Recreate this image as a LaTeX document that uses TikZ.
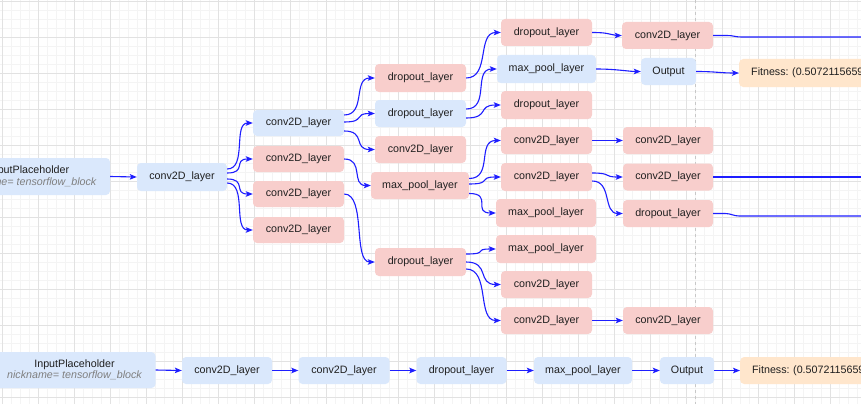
\documentclass[tikz,border=0pt]{standalone}
\usepackage{fontspec}
\setmainfont{Liberation Sans}
\usetikzlibrary{arrows.meta,calc}
\definecolor{bluefill}{HTML}{DAE8FC}
\definecolor{redfill}{HTML}{F8CECC}
\definecolor{orangefill}{HTML}{FFE6CC}
\definecolor{edgeblue}{RGB}{30,30,255}
\definecolor{gridmajor}{HTML}{E2E2E2}
\definecolor{gridminor}{HTML}{F4F4F4}
\definecolor{nickgray}{HTML}{7F7F7F}
\definecolor{dashgray}{HTML}{C8C8C8}
\frenchspacing
\begin{document}
\begin{tikzpicture}[x=1pt,y=-1pt,
  box/.style={rounded corners=4pt, inner sep=0pt, minimum height=27pt,
    font=\fontsize{10.7}{11.5}\selectfont, text=black!88},
  bluebox/.style={box, fill=bluefill},
  redbox/.style={box, fill=redfill},
  orangebox/.style={box, fill=orangefill, anchor=west, align=left, text width=190pt},
  wire/.style={draw=edgeblue, line width=1.1pt},
  edge/.style={wire, -{Stealth[length=7pt,width=5.5pt,inset=1.5pt]}},
  minorline/.style={draw=gridminor, line width=0.8pt},
  majorline/.style={draw=gridmajor, line width=0.9pt},
  dashline/.style={draw=dashgray, line width=1pt, dash pattern=on 3pt off 3pt}
]
\useasboundingbox (0,0) rectangle (861,404);
\clip (0,0) rectangle (861,404);
\fill[white] (0,0) rectangle (861,404);
% grid
\foreach \i in {0,...,96} { \draw[minorline] ({2+9*\i},0) -- ({2+9*\i},404); }
\foreach \j in {0,...,45} { \draw[minorline] (0,{1+9*\j}) -- (861,{1+9*\j}); }
\foreach \i in {0,...,24} { \draw[majorline] ({2+36*\i},0) -- ({2+36*\i},404); }
\foreach \j in {0,...,11} { \draw[majorline] (0,{1+36*\j}) -- (861,{1+36*\j}); }
\draw[dashline] (695,0) -- (695,404);

% ---------- tree ----------
\node[bluebox, minimum width=162pt, minimum height=37pt, align=center] (in1) at (29,176.5)
  {InputPlaceholder\\{\color{nickgray}\itshape nickname= tensorflow\_block}};
\node[bluebox, minimum width=90pt, minimum height=28pt] (c1) at (182,177) {conv2D\_layer};

\node[bluebox, minimum width=91pt, minimum height=26pt] (c2a) at (298.5,123) {conv2D\_layer};
\node[redbox, minimum width=91pt, minimum height=26pt] (c2b) at (298.5,159) {conv2D\_layer};
\node[redbox, minimum width=91pt, minimum height=26pt] (c2c) at (298.5,194) {conv2D\_layer};
\node[redbox, minimum width=91pt, minimum height=26pt] (c2d) at (298.5,230) {conv2D\_layer};

\node[redbox, minimum width=91pt, minimum height=28pt] (d3a) at (420.5,78) {dropout\_layer};
\node[bluebox, minimum width=91pt, minimum height=27pt] (d3b) at (420.5,113.5) {dropout\_layer};
\node[redbox, minimum width=91pt, minimum height=27pt] (c3c) at (420.5,149.5) {conv2D\_layer};
\node[redbox, minimum width=98pt, minimum height=27pt] (m3d) at (420,185.5) {max\_pool\_layer};
\node[redbox, minimum width=91pt, minimum height=28pt] (d3e) at (420.5,262) {dropout\_layer};

\node[redbox, minimum width=91pt] (d4a) at (546.5,32.5) {dropout\_layer};
\node[bluebox, minimum width=99pt, minimum height=28pt] (m4b) at (546.5,69) {max\_pool\_layer};
\node[redbox, minimum width=91pt, minimum height=28pt] (d4c) at (546.5,105) {dropout\_layer};
\node[redbox, minimum width=91pt] (c4d) at (546.5,140.5) {conv2D\_layer};
\node[redbox, minimum width=91pt, minimum height=28pt] (c4e) at (546.5,177) {conv2D\_layer};
\node[redbox, minimum width=100pt, minimum height=28pt] (m4f) at (546,213) {max\_pool\_layer};
\node[redbox, minimum width=100pt, minimum height=28pt] (m4g) at (546,249) {max\_pool\_layer};
\node[redbox, minimum width=91pt] (c4h) at (546.5,284.5) {conv2D\_layer};
\node[redbox, minimum width=91pt] (c4i) at (546.5,320.5) {conv2D\_layer};

\node[redbox, minimum width=91pt] (c5a) at (667.5,35.5) {conv2D\_layer};
\node[bluebox, minimum width=55pt] (o5b) at (668.5,71.5) {Output};
\node[orangebox, minimum height=28pt, inner xsep=12pt] (f5b) at (739,73) {Fitness: (0.5072115659};
\node[redbox, minimum width=90pt] (c5c) at (668,140.5) {conv2D\_layer};
\node[redbox, minimum width=90pt] (c5d) at (668,177) {conv2D\_layer};
\node[redbox, minimum width=90pt] (d5e) at (668,213.5) {dropout\_layer};
\node[redbox, minimum width=90pt] (c5f) at (668,320.5) {conv2D\_layer};

\coordinate (offA) at (900,37);
\coordinate (offB) at (900,177);
\coordinate (offC) at (900,216);

% ---------- bottom row ----------
\node[bluebox, minimum width=162pt, minimum height=36pt, align=center] (in2) at (74.5,370)
  {InputPlaceholder\\{\color{nickgray}\itshape nickname= tensorflow\_block}};
\node[bluebox, minimum width=90pt, minimum height=27pt] (b1) at (227,370.5) {conv2D\_layer};
\node[bluebox, minimum width=91pt, minimum height=27pt] (b2) at (344,370.5) {conv2D\_layer};
\node[bluebox, minimum width=90pt, minimum height=27pt] (b3) at (461.5,370.5) {dropout\_layer};
\node[bluebox, minimum width=98pt, minimum height=27pt] (b4) at (583,370.5) {max\_pool\_layer};
\node[bluebox, minimum width=54pt, minimum height=27pt] (b5) at (687,370.5) {Output};
\node[orangebox, minimum height=27pt, inner xsep=12pt] (b6) at (740,370.5) {Fitness: (0.5072115659};

% ---------- edges: tree ----------
\draw[edge] (in1.east) -- (c1.west);
\draw[edge] ([yshift=8pt]c1.east) .. controls +(20,0) and +(-20,0) .. (c2a.west);
\draw[edge] ([yshift=4pt]c1.east) .. controls +(20,0) and +(-20,0) .. (c2b.west);
\draw[edge] ([yshift=-2pt]c1.east) .. controls +(20,0) and +(-20,0) .. (c2c.west);
\draw[edge] ([yshift=-6pt]c1.east) .. controls +(20,0) and +(-20,0) .. (c2d.west);

\draw[edge] ([yshift=8pt]c2a.east) .. controls +(22,0) and +(-22,0) .. (d3a.west);
\draw[edge] ([yshift=1pt]c2a.east) .. controls +(22,0) and +(-22,0) .. (d3b.west);
\draw[edge] ([yshift=-8pt]c2a.east) .. controls +(22,0) and +(-22,0) .. (c3c.west);
\draw[edge] (c2b.east) .. controls +(20,0) and +(-20,0) .. (m3d.west);
\draw[edge] (c2c.east) .. controls +(22,0) and +(-22,0) .. (d3e.west);

\draw[edge] (d3a.east) .. controls +(24,0) and +(-24,0) .. (d4a.west);
\draw[edge] ([yshift=4.5pt]d3b.east) .. controls +(24,0) and +(-24,0) .. (m4b.west);
\draw[edge] ([yshift=-4.5pt]d3b.east) .. controls +(24,0) and +(-24,0) .. (d4c.west);
\draw[edge] ([yshift=7pt]m3d.east) .. controls +(24,0) and +(-24,0) .. (c4d.west);
\draw[edge] ([yshift=1.5pt]m3d.east) .. controls +(24,0) and +(-24,0) .. (c4e.west);
\draw[edge] ([yshift=-8pt]m3d.east) .. controls +(24,0) and +(-24,0) .. (m4f.west);
\draw[edge] ([yshift=8pt]d3e.east) .. controls +(24,0) and +(-24,0) .. (m4g.west);
\draw[edge] (d3e.east) .. controls +(24,0) and +(-24,0) .. (c4h.west);
\draw[edge] ([yshift=-7pt]d3e.east) .. controls +(24,0) and +(-24,0) .. (c4i.west);

\draw[edge] (d4a.east) .. controls +(20,0) and +(-12,0) .. (c5a.west);
\draw[edge] (m4b.east) .. controls +(20,0) and +(-12,0) .. (o5b.west);
\draw[edge] (c4d.east) -- (c5c.west);
\draw[edge] ([yshift=4pt]c4e.east) .. controls +(20,0) and +(-20,0) .. (c5d.west);
\draw[edge] ([yshift=-4pt]c4e.east) .. controls +(20,0) and +(-20,0) .. (d5e.west);
\draw[edge] (c4i.east) -- (c5f.west);

\draw[edge] (o5b.east) .. controls +(20,0) and +(-20,0) .. (f5b.west);
\draw[wire] (c5a.east) -- ++(14,0) .. controls +(6,0) and +(-6,0) .. ($(c5a.east)+(28,1.5)$) -- (offA);
\draw[wire] (c5d.east) -- (offB);
\draw[wire] (d5e.east) -- ++(12,0) .. controls +(6,0) and +(-6,0) .. ($(d5e.east)+(26,2.5)$) -- (offC);

% ---------- edges: bottom row ----------
\draw[edge] (in2.east) -- (b1.west);
\draw[edge] (b1.east) -- (b2.west);
\draw[edge] (b2.east) -- (b3.west);
\draw[edge] (b3.east) -- (b4.west);
\draw[edge] (b4.east) -- (b5.west);
\draw[edge] (b5.east) -- (b6.west);
\end{tikzpicture}
\end{document}
